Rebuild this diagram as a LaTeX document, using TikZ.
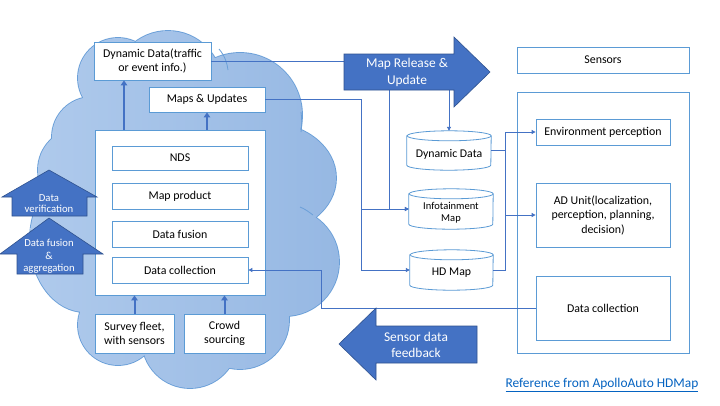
\documentclass[tikz,border=0pt]{standalone}
\usepackage{fontspec}
\setmainfont{Carlito}
\usetikzlibrary{arrows.meta,calc}
\definecolor{boxc}{HTML}{5B9BD5}
\definecolor{linec}{HTML}{4472C4}
\definecolor{arrf}{HTML}{4472C4}
\definecolor{arrd}{HTML}{2F528F}
\definecolor{cloudl}{HTML}{AFCAEC}
\definecolor{cloudr}{HTML}{96B8E3}
\definecolor{cloudd}{HTML}{6A9FD8}
\definecolor{linkc}{HTML}{0563C1}
\begin{document}
\begin{tikzpicture}[x=1pt,y=-1pt,
  box/.style={draw=boxc,line width=0.8pt,fill=white,inner sep=0pt,align=center,font=\fontsize{11.9}{14.5}\selectfont},
  cylbody/.style={draw=boxc,line width=0.8pt,fill=white},
  cyltext/.style={inner sep=0pt,align=center,font=\fontsize{11.8}{14}\selectfont},
  conn/.style={draw=linec,line width=0.9pt},
  tip/.style={-{Triangle[length=4pt,width=4pt]}},
  uparr/.style={draw=linec,line width=2pt,-{Triangle[length=5pt,width=6.5pt]}},
  blockarr/.style={fill=arrf,draw=arrd,line width=0.6pt},
  arrtext/.style={text=white,align=center,inner sep=0pt},
  innerarc/.style={draw=cloudd,line width=0.8pt}]
\useasboundingbox (0,0) rectangle (720,405);
\fill[white] (0,0) rectangle (720,405);

% ---------- cloud ----------
\def\cloudouter{
  (118,78) circle[radius=40pt]
  (168,85) circle[radius=54pt]
  (240,115) circle[radius=62pt]
  (268,178) ellipse[x radius=68pt, y radius=55pt]
  (285,262) circle[radius=54pt]
  (240,320) circle[radius=49pt]
  (190,340) circle[radius=48pt]
  (118,325) circle[radius=40pt]
  (85,240) ellipse[x radius=55pt, y radius=72pt]
  (80,170) circle[radius=42pt]
  (92,137) circle[radius=40pt]}
\def\cloudfill{
  (180,215) circle[radius=95pt]
  (125,115) circle[radius=30pt]
  (150,305) circle[radius=30pt]
  (260,290) circle[radius=30pt]
  (100,280) circle[radius=30pt]
  (250,140) circle[radius=30pt]
  (110,200) circle[radius=30pt]}
\draw[cloudd,line width=1.8pt] \cloudouter;
\shade[left color=cloudl,right color=cloudr] \cloudouter \cloudfill;
\draw[innerarc] (219,49) .. controls (225,56) and (227,63) .. (228,70);
\draw[innerarc] (300,207) .. controls (305,209) and (309,212) .. (313,215);
\draw[innerarc] (301,112) .. controls (302,120) and (302,126) .. (301,132);

% ---------- left boxes ----------
\node[box,minimum width=117pt,minimum height=38pt] (dyn) at (152.5,61) {Dynamic Data(traffic\\or event info.)};
\node[box,minimum width=116pt,minimum height=25pt] (maps) at (207,99.5) {Maps \& Updates};
\node[box,minimum width=170pt,minimum height=165pt] (big) at (180,212.5) {};
\node[box,minimum width=136pt,minimum height=24pt] (nds) at (180,158) {NDS};
\node[box,minimum width=136pt,minimum height=26pt] (mprod) at (180,196) {Map product};
\node[box,minimum width=136pt,minimum height=26pt] (dfus) at (180,234) {Data fusion};
\node[box,minimum width=136pt,minimum height=26pt] (dcol) at (180,270) {Data collection};
\node[box,minimum width=79pt,minimum height=39pt] (survey) at (134.5,333.5) {Survey fleet,\\with sensors};
\node[box,minimum width=81pt,minimum height=39pt] (crowd) at (224.5,333.5) {Crowd\\sourcing};

% ---------- right boxes ----------
\node[box,minimum width=172pt,minimum height=26pt] (sensors) at (603,60) {Sensors};
\node[box,minimum width=172pt,minimum height=261pt] (rbox) at (603,222.5) {};
\node[box,minimum width=134pt,minimum height=26pt] (env) at (603,132) {Environment perception};
\node[box,minimum width=134pt,minimum height=64pt] (adu) at (603,215) {AD Unit(localization,\\perception, planning,\\decision)};
\node[box,minimum width=134pt,minimum height=64pt] (rdcol) at (603,308) {Data collection};

% ---------- cylinders ----------
\node[inner sep=0pt,minimum width=84pt,minimum height=39pt] (cdd) at (449,150.5) {};
\node[inner sep=0pt,minimum width=84pt,minimum height=40pt] (cinf) at (451,209) {};
\node[inner sep=0pt,minimum width=83pt,minimum height=40pt] (chd) at (451.5,270) {};
\foreach \c/\rx in {cdd/42,cinf/42,chd/41.5}{
  \path[cylbody] ($(\c.north west)+(0,5)$) -- ($(\c.south west)+(0,-5)$)
     arc[start angle=180,end angle=360,x radius=\rx pt,y radius=5pt]
     -- ($(\c.north east)+(0,5)$)
     arc[start angle=0,end angle=180,x radius=\rx pt,y radius=5pt] -- cycle;
  \draw[boxc,line width=0.8pt] ($(\c.north east)+(0,5)$)
     arc[start angle=0,end angle=-180,x radius=\rx pt,y radius=5pt];
}
\node[cyltext] (tdd) at ($(cdd.center)+(0,3.5)$) {Dynamic Data};
\node[cyltext,font=\fontsize{10.5}{11.5}\selectfont] (tinf) at ($(cinf.center)+(0,3.5)$) {Infotainment\\Map};
\node[cyltext] (thd) at ($(chd.center)+(0,3)$) {HD Map};

% ---------- connectors ----------
\coordinate (j1) at (389,61);
\coordinate (v1) at (361,0);
\coordinate (v2) at (505,0);
\coordinate (v3) at (321,0);
\coordinate (c1) at (124,0);
\draw[conn,tip] (dyn.east) -| (cdd.north);
\draw[conn,tip] (j1) |- (cinf.west);
\draw[conn,tip] (maps.east) -| (v1 |- chd.west) -- (chd.west);
\draw[conn,tip] (v1 |- cinf.west) -- (cinf.west);
\draw[conn,tip] (cdd.east) -- (v2 |- cdd.east) |- (env.west);
\draw[conn,tip] (v2 |- cdd.east) |- (adu.west);
\draw[conn] (chd.east) -| (v2 |- adu.west);
\draw[conn,tip] (rdcol.west) -| (v3 |- dcol.east) -- (dcol.east);

\draw[uparr] (big.north -| c1) -- (dyn.south -| c1);
\draw[uparr] (big.north -| maps.south) -- (maps.south);
\draw[uparr] (survey.north) -- (survey.north |- big.south);
\draw[uparr] (crowd.north) -- (crowd.north |- big.south);

% ---------- block arrows ----------
\draw[blockarr] (344,54) -- (454,54) -- (454,37) -- (490,72) -- (454,107) -- (454,90) -- (344,90) -- cycle;
\node[arrtext,font=\fontsize{13.4}{17}\selectfont] (mra) at (407,72.5) {Map Release \&\\Update};

\draw[blockarr] (339,344) -- (376,308) -- (376,326) -- (477,326) -- (477,363) -- (376,363) -- (376,380) -- cycle;
\node[arrtext,font=\fontsize{13.4}{16}\selectfont] (sdf) at (416,345) {Sensor data\\feedback};

\draw[blockarr] (49,170) -- (97,197) -- (87,197) -- (87,216) -- (12,216) -- (12,197) -- (2,197) -- cycle;
\node[arrtext,font=\fontsize{10.7}{11.5}\selectfont] (dver) at (49,203.5) {Data\\verification};

\draw[blockarr] (49,218) -- (103,254) -- (83,254) -- (83,274) -- (17,274) -- (17,254) -- (0,254) -- cycle;
\node[arrtext,font=\fontsize{10.7}{12.5}\selectfont] (dfa) at (49,256.5) {Data fusion\\\&\\aggregation};

% ---------- reference ----------
\node[inner sep=0pt,text=linkc,font=\fontsize{13.4}{16}\selectfont] (ref) at (602,385) {\underline{Reference from ApolloAuto HDMap}};
\end{tikzpicture}
\end{document}
